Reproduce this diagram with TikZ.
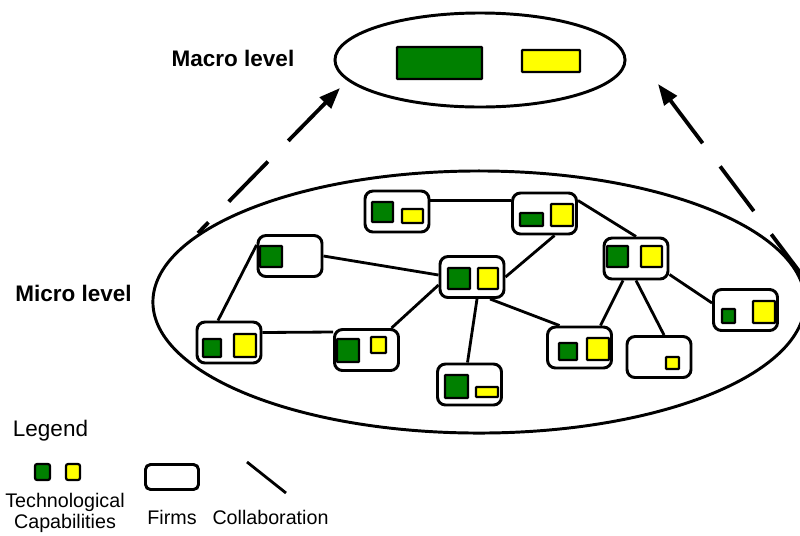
\documentclass[tikz,border=0pt]{standalone}
\usepackage{fontspec}
\setmainfont{Liberation Sans}
\usetikzlibrary{shapes.geometric,arrows.meta,calc}
\definecolor{capgreen}{RGB}{0,128,0}
\definecolor{capyellow}{RGB}{255,255,0}

\begin{document}
\begin{tikzpicture}[x=0.025cm, y=-0.025cm,
  every node/.style={font=\fontsize{14}{15}\selectfont},
  level/.style={font=\fontsize{16}{19}\selectfont\bfseries},
  firm/.style={draw, line width=2.1pt, rounded corners=0.2cm, fill=white,
    minimum width=1.6cm, minimum height=1.025cm, inner sep=0pt},
  collab/.style={line width=2pt},
  greencap/.style={draw, line width=1.6pt, fill=capgreen, rounded corners=0.5pt},
  yellowcap/.style={greencap, fill=capyellow},
  levelarrow/.style={line width=2.7pt, dash pattern=on 1.4cm off 0.725cm,
    -{Triangle[length=15pt,width=11pt]}}]
  \useasboundingbox (0,0) rectangle (800,535);

  % the two levels
  \node[draw, ellipse, line width=2.1pt, minimum width=16.3cm, minimum height=6.55cm, inner sep=0pt] (micro) at (479,302) {};
  \node[draw, ellipse, line width=2.1pt, minimum width=7.25cm, minimum height=2.35cm, inner sep=0pt] (macro) at (480,60) {};
  \node[level] (macrolab) at (233,58) {Macro level};
  \node[level] (microlab) at (73.5,293) {Micro level};

  \draw[greencap] (397,47) rectangle (482,79);
  \draw[yellowcap] (522,50) rectangle (580,72);

  % firms
  \node[firm] (f1) at (397,211.5) {};
  \node[firm] (f2) at (290,256) {};
  \node[firm] (f3) at (472,277) {};
  \node[firm] (f4) at (229,342.5) {};
  \node[firm] (f5) at (366.5,350) {};
  \node[firm] (f6) at (469.5,384.5) {};
  \node[firm] (f7) at (544.5,213.5) {};
  \node[firm] (f8) at (636,258.5) {};
  \node[firm] (f9) at (745.5,310) {};
  \node[firm] (f10) at (579.5,347.5) {};
  \node[firm] (f11) at (659,357) {};

  % collaborations
  \draw[collab] ($(f1.east)+(0,-11)$) -- ($(f7.west)+(0,-13)$);
  \draw[collab] ($(f7.east)+(0,-13)$) -- (f8.north);
  \draw[collab] ($(f7.south)+(10,0)$) -- (f3.east);
  \draw[collab] (f2.east) -- ($(f3.west)+(0,-2)$);
  \draw[collab] ($(f2.west)+(0,-11)$) -- ($(f4.north)+(-11,0)$);
  \draw[collab] ($(f4.east)+(0,-10)$) -- ($(f5.west)+(0,-18)$);
  \draw[collab] ($(f5.north)+(25,0)$) -- ($(f3.west)+(0,8)$);
  \draw[collab] ($(f3.south)+(5,0)$) -- ($(f6.north)+(-2,0)$);
  \draw[collab] ($(f3.south)+(18,0)$) -- ($(f10.north)+(-20,0)$);
  \draw[collab] ($(f8.south)+(-13,0)$) -- ($(f10.north)+(21,0)$);
  \draw[collab] (f8.south) -- ($(f11.north)+(5,0)$);
  \draw[collab] ($(f8.east)+(0,16)$) -- ($(f9.west)+(0,-7)$);

  % capabilities
  \draw[greencap] (372,202) rectangle (393,222);
  \draw[yellowcap] (402,209) rectangle (423,223);
  \draw[greencap] (260,246) rectangle (282,267);
  \draw[greencap] (448,268) rectangle (470,289);
  \draw[yellowcap] (478,268) rectangle (498,289);
  \draw[greencap] (203,339) rectangle (221,357);
  \draw[yellowcap] (234,334) rectangle (256,357);
  \draw[greencap] (337,339) rectangle (359,362);
  \draw[yellowcap] (371,337) rectangle (386,353);
  \draw[greencap] (445,375) rectangle (468,398);
  \draw[yellowcap] (476,387) rectangle (498,397);
  \draw[greencap] (520,213) rectangle (543,226);
  \draw[yellowcap] (551,204) rectangle (573,226);
  \draw[greencap] (607,246) rectangle (628,267);
  \draw[yellowcap] (641,246) rectangle (662,267);
  \draw[greencap] (722,309) rectangle (735,323);
  \draw[yellowcap] (753,301) rectangle (775,323);
  \draw[greencap] (559,343) rectangle (577,360);
  \draw[yellowcap] (587,338) rectangle (609,360);
  \draw[yellowcap] (666,357) rectangle (679,369);

  % micro to macro
  \coordinate (microL) at (198,233);
  \coordinate (macroL) at (340,88);
  \coordinate (microR) at (805,279);
  \coordinate (macroR) at (658,84);
  \draw[levelarrow, dash phase=1.025cm] (microL) -- (macroL);
  \draw[levelarrow] (microR) -- (macroR);

  % legend
  \node (legend) at (50.5,431) {\fontsize{16}{19}\selectfont Legend};
  \draw[greencap, rounded corners=1.5pt] (35,464) rectangle (50,480);
  \draw[yellowcap, rounded corners=1.5pt] (66,464) rectangle (80,480);
  \node[firm, rounded corners=0.125cm, minimum width=1.325cm, minimum height=0.625cm] (legfirm) at (172,477) {};
  \coordinate (legA) at (247,462);
  \coordinate (legB) at (286,493);
  \draw[collab] (legA) -- (legB);
  \node[align=center] (techlab) at (65,512.5) {Technological\\Capabilities};
  \node (firmlab) at (172,517) {Firms};
  \node (collablab) at (270.5,517) {Collaboration};
\end{tikzpicture}
\end{document}
